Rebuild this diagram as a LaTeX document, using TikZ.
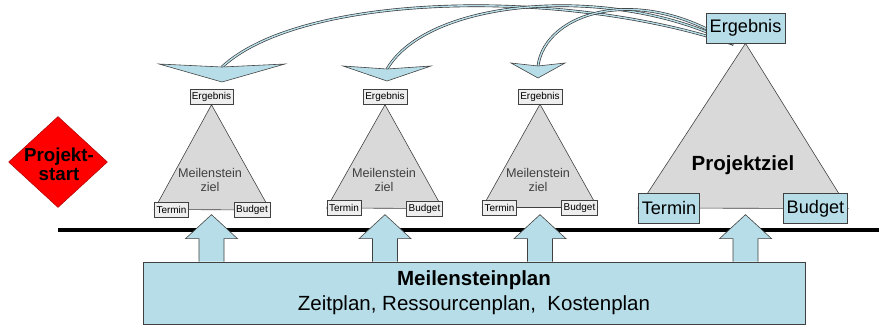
\documentclass[tikz,border=0pt]{standalone}
\usepackage{fontspec}
\setmainfont{Liberation Sans}
\usepackage{tikz}
\usetikzlibrary{positioning, calc, backgrounds, shapes.geometric}
\definecolor{startrot}{RGB}{255, 0, 0}
\definecolor{startrand}{RGB}{170, 0, 0}
\definecolor{planblau}{RGB}{183, 222, 232}
\definecolor{randgrau}{RGB}{64, 64, 64}
\definecolor{zielgrau}{RGB}{217, 217, 217}
\definecolor{kastengrau}{RGB}{238, 238, 238}

% Blockpfeil vom Meilensteinplan nach oben
\newcommand{\hochpfeil}[1]{%
  \filldraw[pfeil] ($(plan.north -| #1)+(-12.5,0)$) -- ++(0,-23) -- ++(-13.5,0) -- ++(26,-24) -- ++(26,24) -- ++(-13.5,0) -- ++(0,23);}
% Pfeilspitze unter einem Bogen
\newcommand{\spitze}[3]{%
  \filldraw[pfeil] ($(#1)+(-#2,-3)$) -- (#1) -- ($(#1)+(#2,-3)$) -- ($(#1)+(0,#3)$) -- cycle;}

\tikzset{
  klein/.style={draw=randgrau, fill=kastengrau, inner xsep=1.8pt, inner ysep=1pt, minimum height=4.5mm, font=\fontsize{8.5}{10}\selectfont},
  gross/.style={draw=randgrau, fill=planblau, line width=0.6pt, inner xsep=3pt, minimum height=9mm, font=\fontsize{15.5}{18}\selectfont},
  mstext/.style={align=center, text=randgrau, font=\fontsize{10.8}{12.5}\selectfont},
  dreieck/.style={fill=zielgrau, draw=randgrau, line width=0.5pt},
  pfeil/.style={fill=planblau, draw=randgrau, line width=0.5pt},
  schaft/.style={draw=black!80, line width=0.55pt, double=planblau, double distance=1.2pt},
  achse/.style={line width=2.6pt, black}
}

\begin{document}
\begin{tikzpicture}[x=0.3mm, y=-0.3mm]
  \useasboundingbox (0,0) rectangle (879,329);

  % Projektstart
  \node[diamond, fill=startrot, draw=startrand, minimum width=29.7mm, minimum height=27.3mm, inner sep=0] (start) at (58,162) {};
  \node[font=\bfseries\fontsize{16}{16.2}\selectfont, align=center] (startlabel) at (59,164) {Projekt-\\start};

  % Meilensteine
  \node[klein] (m1e) at (211.5,97) {Ergebnis};
  \node[klein] (m1t) at (171.5,209.5) {Termin};
  \node[klein] (m1b) at (252,210) {Budget};
  \node[mstext] (m1z) at (210,180) {Meilenstein\\ziel};

  \node[klein] (m2e) at (385,97) {Ergebnis};
  \node[klein] (m2t) at (344,208) {Termin};
  \node[klein] (m2b) at (424.5,208.5) {Budget};
  \node[mstext] (m2z) at (384,180) {Meilenstein\\ziel};

  \node[klein] (m3e) at (540,96.5) {Ergebnis};
  \node[klein] (m3t) at (499.5,207.5) {Termin};
  \node[klein] (m3b) at (579.5,207.5) {Budget};
  \node[mstext] (m3z) at (538,180) {Meilenstein\\ziel};

  % Projektziel
  \node[gross] (erg) at (745.5,28) {Ergebnis};
  \node[gross] (ter) at (669,208) {Termin};
  \node[gross] (bud) at (815.5,208.5) {Budget};
  \node[font=\bfseries\fontsize{17.5}{20}\selectfont] (pz) at (743,165) {Projektziel};

  \node[draw=randgrau, fill=planblau, line width=0.6pt, minimum width=198.6mm, minimum height=18.6mm, align=center, font=\fontsize{17.5}{21.3}\selectfont] (plan) at (474,293) {\textbf{Meilensteinplan}\\Zeitplan, Ressourcenplan, \ Kostenplan};

  \coordinate (k1) at (222,67);
  \coordinate (k2) at (387,69);
  \coordinate (k3) at (538,66);

  \begin{scope}[on background layer]
    \filldraw[dreieck] (m1e.south) -- (m1t.west) -- (m1b.east) -- cycle;
    \filldraw[dreieck] (m2e.south) -- (m2t.west) -- (m2b.east) -- cycle;
    \filldraw[dreieck] (m3e.south) -- (m3t.west) -- (m3b.east) -- cycle;
    \filldraw[dreieck] (erg.south) -- (ter.west) -- (bud.east) -- cycle;

    % Boegen vom Ergebnis zu den Meilensteinen
    \draw[schaft] ($(erg.south)+(-12,1)$) .. controls (560,-14) and (300,-6) .. (k1);
    \draw[schaft] ($(erg.south)+(-12,1)$) .. controls (620,-16) and (430,-4) .. (k2);
    \draw[schaft] ($(erg.south)+(-12,1)$) .. controls (640,-18) and (545,12) .. (k3);
    \spitze{k1}{63}{15}
    \spitze{k2}{44}{12}
    \spitze{k3}{27}{12}

    \draw[achse] (start.center |- 0,230) -- (879,230);
    \hochpfeil{m1e}
    \hochpfeil{m2e}
    \hochpfeil{m3e}
    \hochpfeil{erg}
  \end{scope}
\end{tikzpicture}
\end{document}
